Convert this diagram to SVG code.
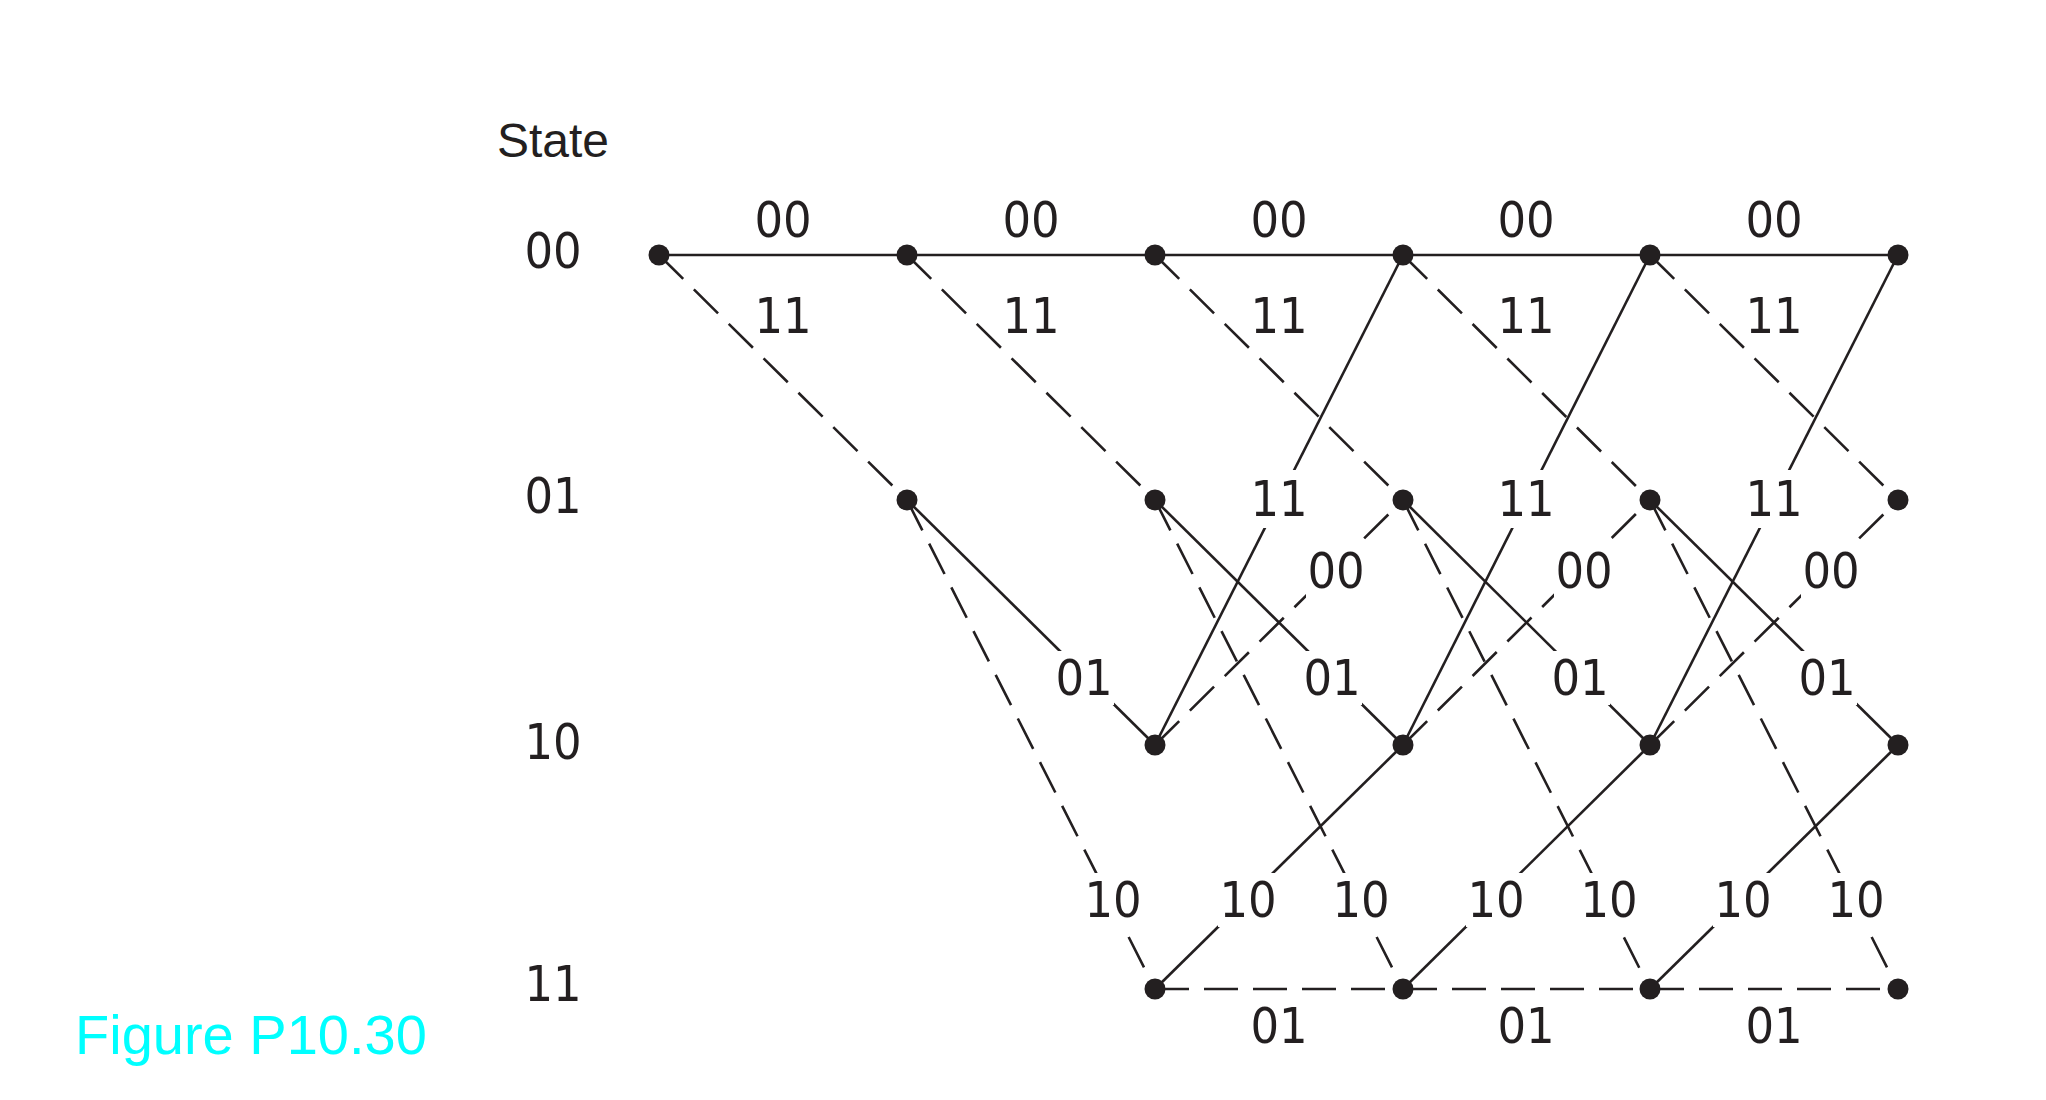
<svg xmlns="http://www.w3.org/2000/svg" width="2046" height="1100" viewBox="0 0 2046 1100">
<style>
  .s { stroke: #231f20; stroke-width: 2.6; fill: none; stroke-linecap: butt; }
  .d { stroke: #231f20; stroke-width: 2.6; fill: none; stroke-dasharray: 34 15; }
  .lbl { font-family: "DejaVu Sans Condensed", "DejaVu Sans", sans-serif; font-stretch: condensed; font-size: 50px; fill: #231f20; text-anchor: middle; }
  .bg { fill: #ffffff; }
  .node { fill: #231f20; }
  .title { font-family: "Liberation Sans", Arial, sans-serif; font-size: 48px; fill: #231f20; text-anchor: middle; }
  .cap { font-family: "Liberation Sans", Arial, sans-serif; font-size: 56px; fill: #00ffff; }
</style>
<rect width="2046" height="1100" fill="#ffffff"/>

<g id="connectors">
  <!-- 00 -> 00 -->
  <line class="s" x1="659" y1="255" x2="907" y2="255"/>
  <line class="s" x1="907" y1="255" x2="1155" y2="255"/>
  <line class="s" x1="1155" y1="255" x2="1403" y2="255"/>
  <line class="s" x1="1403" y1="255" x2="1650" y2="255"/>
  <line class="s" x1="1650" y1="255" x2="1898" y2="255"/>
  <!-- 00 -> 01 -->
  <line class="d" x1="659" y1="255" x2="907" y2="500"/>
  <line class="d" x1="907" y1="255" x2="1155" y2="500"/>
  <line class="d" x1="1155" y1="255" x2="1403" y2="500"/>
  <line class="d" x1="1403" y1="255" x2="1650" y2="500"/>
  <line class="d" x1="1650" y1="255" x2="1898" y2="500"/>
  <!-- 01 -> 10 -->
  <line class="s" x1="907" y1="500" x2="1155" y2="745"/>
  <line class="s" x1="1155" y1="500" x2="1403" y2="745"/>
  <line class="s" x1="1403" y1="500" x2="1650" y2="745"/>
  <line class="s" x1="1650" y1="500" x2="1898" y2="745"/>
  <!-- 01 -> 11 -->
  <line class="d" x1="907" y1="500" x2="1155" y2="989"/>
  <line class="d" x1="1155" y1="500" x2="1403" y2="989"/>
  <line class="d" x1="1403" y1="500" x2="1650" y2="989"/>
  <line class="d" x1="1650" y1="500" x2="1898" y2="989"/>
  <!-- 10 -> 00 -->
  <line class="s" x1="1155" y1="745" x2="1403" y2="255"/>
  <line class="s" x1="1403" y1="745" x2="1650" y2="255"/>
  <line class="s" x1="1650" y1="745" x2="1898" y2="255"/>
  <!-- 10 -> 01 -->
  <line class="d" x1="1155" y1="745" x2="1403" y2="500"/>
  <line class="d" x1="1403" y1="745" x2="1650" y2="500"/>
  <line class="d" x1="1650" y1="745" x2="1898" y2="500"/>
  <!-- 11 -> 10 -->
  <line class="s" x1="1155" y1="989" x2="1403" y2="745"/>
  <line class="s" x1="1403" y1="989" x2="1650" y2="745"/>
  <line class="s" x1="1650" y1="989" x2="1898" y2="745"/>
  <!-- 11 -> 11 -->
  <line class="d" x1="1155" y1="989" x2="1403" y2="989"/>
  <line class="d" x1="1403" y1="989" x2="1650" y2="989"/>
  <line class="d" x1="1650" y1="989" x2="1898" y2="989"/>
</g>

<g id="edge-labels">
  <!-- top 00 -->
  <text class="lbl" x="783" y="237">00</text>
  <text class="lbl" x="1031" y="237">00</text>
  <text class="lbl" x="1279" y="237">00</text>
  <text class="lbl" x="1526" y="237">00</text>
  <text class="lbl" x="1774" y="237">00</text>
  <!-- top 11 -->
  <text class="lbl" x="783" y="333">11</text>
  <text class="lbl" x="1031" y="333">11</text>
  <text class="lbl" x="1279" y="333">11</text>
  <text class="lbl" x="1526" y="333">11</text>
  <text class="lbl" x="1774" y="333">11</text>
  <!-- mid 11 -->
  <rect class="bg" x="1249" y="470" width="60" height="58"/>
  <text class="lbl" x="1279" y="516">11</text>
  <rect class="bg" x="1496" y="470" width="60" height="58"/>
  <text class="lbl" x="1526" y="516">11</text>
  <rect class="bg" x="1744" y="470" width="60" height="58"/>
  <text class="lbl" x="1774" y="516">11</text>
  <!-- 00 -->
  <rect class="bg" x="1306" y="544" width="60" height="54"/>
  <text class="lbl" x="1336" y="588">00</text>
  <rect class="bg" x="1554" y="544" width="60" height="54"/>
  <text class="lbl" x="1584" y="588">00</text>
  <rect class="bg" x="1801" y="544" width="60" height="54"/>
  <text class="lbl" x="1831" y="588">00</text>
  <!-- 01 -->
  <rect class="bg" x="1054" y="651" width="60" height="54"/>
  <text class="lbl" x="1084" y="695">01</text>
  <rect class="bg" x="1302" y="651" width="60" height="54"/>
  <text class="lbl" x="1332" y="695">01</text>
  <rect class="bg" x="1550" y="651" width="60" height="54"/>
  <text class="lbl" x="1580" y="695">01</text>
  <rect class="bg" x="1797" y="651" width="60" height="54"/>
  <text class="lbl" x="1827" y="695">01</text>
  <!-- 10 (dashed 01->11) -->
  <rect class="bg" x="1083" y="873" width="60" height="56"/>
  <text class="lbl" x="1113" y="917">10</text>
  <rect class="bg" x="1331" y="873" width="60" height="56"/>
  <text class="lbl" x="1361" y="917">10</text>
  <rect class="bg" x="1579" y="873" width="60" height="56"/>
  <text class="lbl" x="1609" y="917">10</text>
  <rect class="bg" x="1826" y="873" width="60" height="56"/>
  <text class="lbl" x="1856" y="917">10</text>
  <!-- 10 (solid 11->10) -->
  <rect class="bg" x="1218" y="873" width="60" height="54"/>
  <text class="lbl" x="1248" y="917">10</text>
  <rect class="bg" x="1466" y="873" width="60" height="54"/>
  <text class="lbl" x="1496" y="917">10</text>
  <rect class="bg" x="1713" y="873" width="60" height="54"/>
  <text class="lbl" x="1743" y="917">10</text>
  <!-- bottom 01 -->
  <text class="lbl" x="1279" y="1043">01</text>
  <text class="lbl" x="1526" y="1043">01</text>
  <text class="lbl" x="1774" y="1043">01</text>
</g>

<g id="state-labels">
  <text class="title" x="553" y="157">State</text>
  <text class="lbl" x="553" y="268">00</text>
  <text class="lbl" x="553" y="513">01</text>
  <text class="lbl" x="553" y="759">10</text>
  <text class="lbl" x="553" y="1001">11</text>
</g>

<g id="n0_00"><circle class="node" cx="659" cy="255" r="10.5"/></g>
<g id="n1_00"><circle class="node" cx="907" cy="255" r="10.5"/></g>
<g id="n1_01"><circle class="node" cx="907" cy="500" r="10.5"/></g>
<g id="n2_00"><circle class="node" cx="1155" cy="255" r="10.5"/></g>
<g id="n2_01"><circle class="node" cx="1155" cy="500" r="10.5"/></g>
<g id="n2_10"><circle class="node" cx="1155" cy="745" r="10.5"/></g>
<g id="n2_11"><circle class="node" cx="1155" cy="989" r="10.5"/></g>
<g id="n3_00"><circle class="node" cx="1403" cy="255" r="10.5"/></g>
<g id="n3_01"><circle class="node" cx="1403" cy="500" r="10.5"/></g>
<g id="n3_10"><circle class="node" cx="1403" cy="745" r="10.5"/></g>
<g id="n3_11"><circle class="node" cx="1403" cy="989" r="10.5"/></g>
<g id="n4_00"><circle class="node" cx="1650" cy="255" r="10.5"/></g>
<g id="n4_01"><circle class="node" cx="1650" cy="500" r="10.5"/></g>
<g id="n4_10"><circle class="node" cx="1650" cy="745" r="10.5"/></g>
<g id="n4_11"><circle class="node" cx="1650" cy="989" r="10.5"/></g>
<g id="n5_00"><circle class="node" cx="1898" cy="255" r="10.5"/></g>
<g id="n5_01"><circle class="node" cx="1898" cy="500" r="10.5"/></g>
<g id="n5_10"><circle class="node" cx="1898" cy="745" r="10.5"/></g>
<g id="n5_11"><circle class="node" cx="1898" cy="989" r="10.5"/></g>

<text id="caption" class="cap" x="75" y="1054">Figure P10.30</text>
</svg>
